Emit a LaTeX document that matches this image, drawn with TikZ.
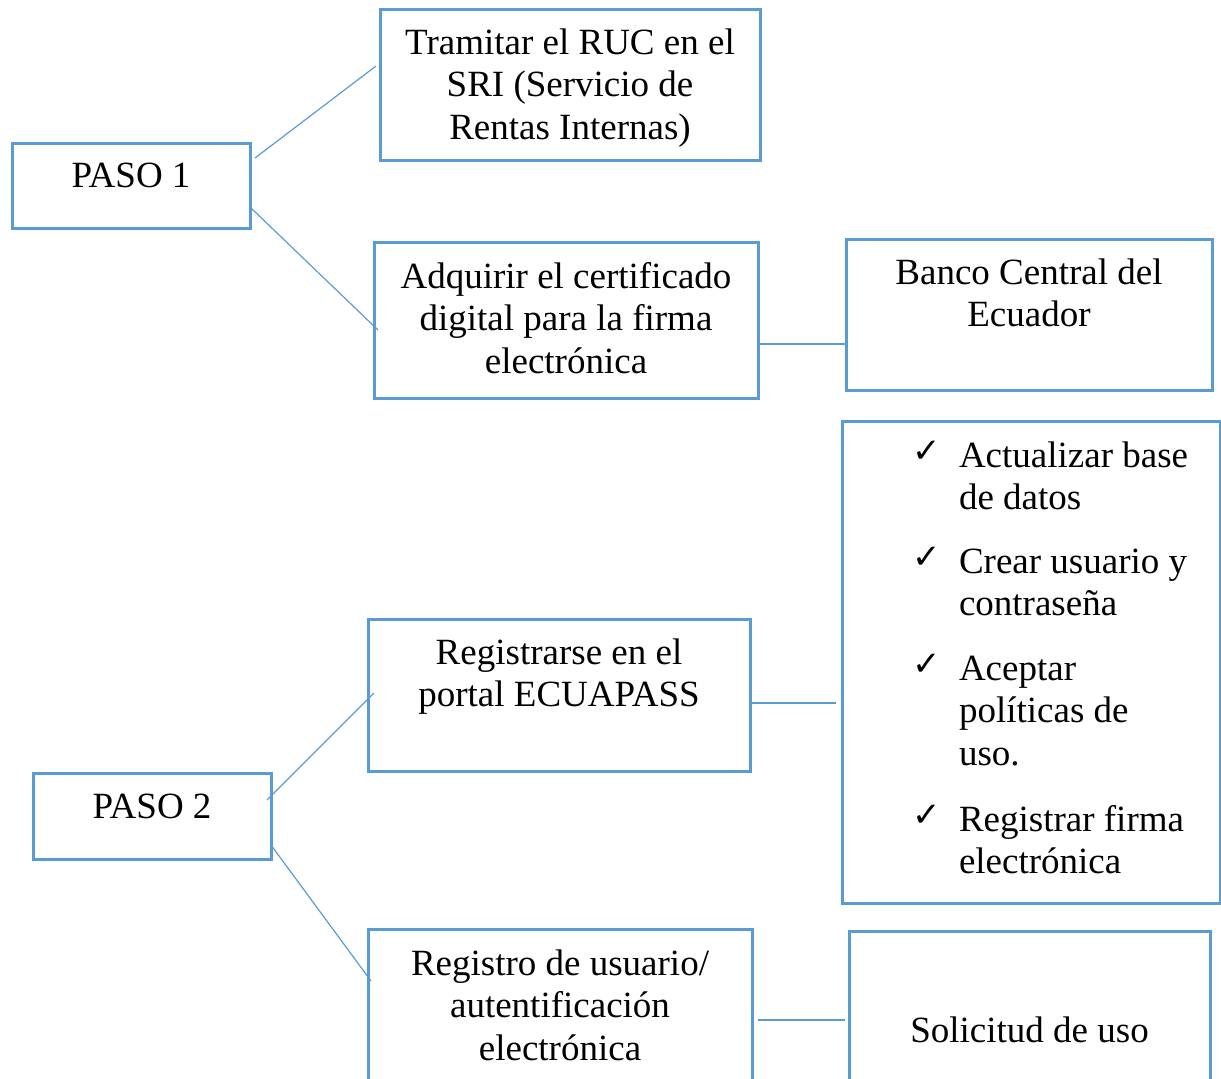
\documentclass[tikz,border=0pt]{standalone}
\usepackage{fontspec}
\setmainfont{Liberation Serif}
\newfontfamily\checkfont{DejaVu Sans}
\definecolor{boxblue}{HTML}{5B9BD5}
\tikzset{
  box/.style={draw=boxblue, line width=3pt, inner sep=0pt, outer sep=0pt, fill=none},
  txt/.style={inner sep=0pt, outer sep=0pt, align=center, font=\fontsize{37}{42.5}\selectfont, anchor=north},
  itm/.style={inner sep=0pt, outer sep=0pt, align=left, font=\fontsize{37}{42.5}\selectfont, anchor=north west},
  chk/.style={inner sep=0pt, outer sep=0pt, font=\checkfont\bfseries\fontsize{34}{36}\selectfont, anchor=base},
  link/.style={draw=boxblue, line width=1.2pt}
}
\begin{document}
\begin{tikzpicture}[x=1pt,y=-1pt]
\useasboundingbox (0,0) rectangle (1221,1079);
\clip (0,0) rectangle (1221,1079);
% boxes
\node[box, minimum width=238, minimum height=85] (p1) at (131,185.5) {};
\node[box, minimum width=380, minimum height=151] (tr) at (570,84.5) {};
\node[box, minimum width=384, minimum height=156] (ad) at (566,320) {};
\node[box, minimum width=366, minimum height=151] (bc) at (1029,314.5) {};
\node[box, minimum width=378, minimum height=482] (cl) at (1031,662) {};
\node[box, minimum width=382, minimum height=152] (rg) at (559,695) {};
\node[box, minimum width=238, minimum height=86] (p2) at (152,816) {};
\node[box, minimum width=384, minimum height=170] (ru) at (560,1014) {};
\node[box, minimum width=361, minimum height=170] (so) at (1029.5,1016) {};
% texts
\node[txt] (tp1) at (131,157.25) {\strut PASO 1};
\node[txt] (ttr) at (570,24.25) {\strut Tramitar el RUC en el\\SRI (Servicio de\\Rentas Internas)};
\node[txt] (tad) at (566,258.25) {\strut Adquirir el certificado\\digital para la firma\\electrónica};
\node[txt] (tbc) at (1029,254.25) {\strut Banco Central del\\Ecuador};
\node[txt] (trg) at (559,634.25) {\strut Registrarse en el\\portal ECUAPASS};
\node[txt] (tp2) at (152,788.25) {\strut PASO 2};
\node[txt] (tru) at (560,945.25) {\strut Registro de usuario/\\autentificación\\electrónica};
\node[txt] (tso) at (1029.5,1012.25) {\strut Solicitud de uso};
% checklist
\node[chk] (k1) at (927,462) {✓};
\node[itm] (i1) at (959,437.25) {\strut Actualizar base\\de datos};
\node[chk] (k2) at (927,568) {✓};
\node[itm] (i2) at (959,543.25) {\strut Crear usuario y\\contraseña};
\node[chk] (k3) at (927,675) {✓};
\node[itm] (i3) at (959,650.25) {\strut Aceptar\\políticas de\\uso.};
\node[chk] (k4) at (927,826) {✓};
\node[itm] (i4) at (959,801.25) {\strut Registrar firma\\electrónica};
% connectors
\draw[link] ([shift={(5,15)}]p1.north east) -- ([shift={(-4,-18.5)}]tr.west);
\draw[link] ([shift={(1,-20)}]p1.south east) -- ([shift={(4,10)}]ad.west);
\draw[link] ([shift={(0,24)}]ad.east) -- ([shift={(-1,29.5)}]bc.west);
\draw[link] ([shift={(0,8)}]rg.east) -- ([shift={(-6,41)}]cl.west);
\draw[link] ([shift={(-4,27)}]p2.north east) -- ([shift={(6,-2)}]rg.west);
\draw[link] ([shift={(0,-14)}]p2.south east) -- ([shift={(3,-33)}]ru.west);
\draw[link] ([shift={(6,6)}]ru.east) -- ([shift={(-4,4)}]so.west);
\end{tikzpicture}
\end{document}
